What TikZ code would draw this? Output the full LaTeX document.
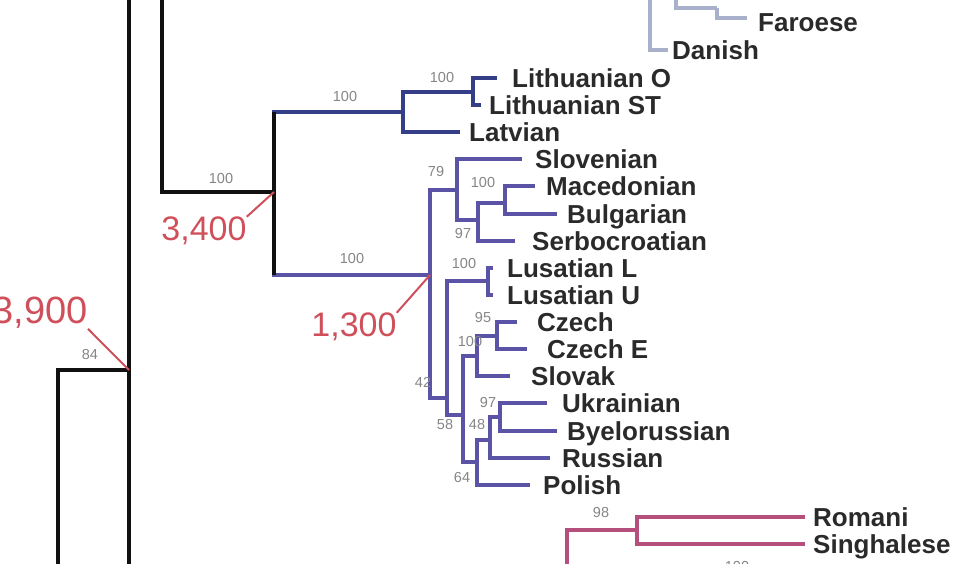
\documentclass[tikz,border=0pt]{standalone}
\usepackage{fontspec}
\setmainfont{Liberation Sans}
\definecolor{stemcol}{HTML}{111111}
\definecolor{baltic}{HTML}{343F88}
\definecolor{slavic}{HTML}{5B54A6}
\definecolor{germ}{HTML}{A9B0CC}
\definecolor{indic}{HTML}{B5507C}
\definecolor{agecol}{HTML}{CF505A}
\definecolor{supcol}{HTML}{858585}
\definecolor{taxcol}{HTML}{2A2A2A}
\begin{document}
\begin{tikzpicture}[x=1pt,y=-1pt,
  branch/.style={line width=4.5pt, line join=miter, line cap=butt},
  taxon/.style={anchor=base west, inner sep=0pt, text=taxcol,
    font=\bfseries\fontsize{26}{26}\selectfont},
  support/.style={inner sep=0pt, text=supcol, font=\fontsize{14.5}{14.5}\selectfont},
  age/.style={inner sep=0pt, text=agecol, font=\fontsize{34}{34}\selectfont},
  lead/.style={draw=agecol, line width=2pt}]
\useasboundingbox (0,0) rectangle (956,563);

% ---- node positions (x of node, y where its parent branch meets it) ----
\coordinate (top129) at (129,-20);
\coordinate (bot129) at (129,600);
\coordinate (root) at (129,370);
\coordinate (left58) at (58,600);
\coordinate (top162) at (162,-20);
\coordinate (BS) at (274,192);
\coordinate (Bal) at (403,112);
\coordinate (Lit) at (473,92);
\coordinate (Sla) at (430,275);
\coordinate (SS) at (457,190);
\coordinate (SC) at (478,220);
\coordinate (MB) at (505,203);
\coordinate (WE) at (447,398);
\coordinate (Lus) at (488,281);
\coordinate (R) at (463,415);
\coordinate (CS) at (477,356);
\coordinate (CZ) at (497,336);
\coordinate (P) at (477,462);
\coordinate (E) at (490,440);
\coordinate (UB) at (500,417);
% tips
\coordinate (LiO) at (497,78);
\coordinate (LiS) at (481,105);
\coordinate (Lat) at (460,132);
\coordinate (Slo) at (522,159);
\coordinate (Mac) at (535,186);
\coordinate (Bul) at (557,214);
\coordinate (Ser) at (515,241);
\coordinate (LuL) at (493,268);
\coordinate (LuU) at (493,295);
\coordinate (Cz) at (517,322);
\coordinate (CzE) at (527,349);
\coordinate (Slk) at (510,376);
\coordinate (Ukr) at (547,403);
\coordinate (Bye) at (557,431);
\coordinate (Rus) at (550,458);
\coordinate (Pol) at (530,485);
% Germanic and Indic fragments
\coordinate (Gtop) at (650,-20);
\coordinate (Dan) at (668,50);
\coordinate (Ftop) at (676,-20);
\coordinate (FN) at (717,8);
\coordinate (Far) at (747,18);
\coordinate (Ibot) at (567,600);
\coordinate (RS) at (637,530);
\coordinate (Rom) at (805,517);
\coordinate (Sin) at (805,544);

% ---- black deep branches ----
\draw[branch, stemcol] (top129) -- (bot129);
\draw[branch, stemcol] (root) -| (left58);
\draw[branch, stemcol] (top162) |- (BS);

% ---- Baltic ----
\draw[branch, baltic] (BS) |- (Bal);
\draw[branch, baltic] (Bal) |- (Lit);
\draw[branch, baltic] (Bal) |- (Lat);
\draw[branch, baltic] (Lit) |- (LiO);
\draw[branch, baltic] (Lit) |- (LiS);

% ---- Slavic ----
\draw[branch, slavic] (BS) |- (Sla);
\draw[branch, stemcol] (BS |- Bal) -- (BS |- Sla);
\draw[branch, slavic] (Sla) |- (SS);
\draw[branch, slavic] (Sla) |- (WE);
\draw[branch, slavic] (SS) |- (Slo);
\draw[branch, slavic] (SS) |- (SC);
\draw[branch, slavic] (SC) |- (MB);
\draw[branch, slavic] (SC) |- (Ser);
\draw[branch, slavic] (MB) |- (Mac);
\draw[branch, slavic] (MB) |- (Bul);
\draw[branch, slavic] (WE) |- (Lus);
\draw[branch, slavic] (WE) |- (R);
\draw[branch, slavic] (Lus) |- (LuL);
\draw[branch, slavic] (Lus) |- (LuU);
\draw[branch, slavic] (R) |- (CS);
\draw[branch, slavic] (R) |- (P);
\draw[branch, slavic] (CS) |- (CZ);
\draw[branch, slavic] (CS) |- (Slk);
\draw[branch, slavic] (CZ) |- (Cz);
\draw[branch, slavic] (CZ) |- (CzE);
\draw[branch, slavic] (P) |- (E);
\draw[branch, slavic] (P) |- (Pol);
\draw[branch, slavic] (E) |- (UB);
\draw[branch, slavic] (E) |- (Rus);
\draw[branch, slavic] (UB) |- (Ukr);
\draw[branch, slavic] (UB) |- (Bye);

% ---- Germanic ----
\draw[branch, germ] (Gtop) |- (Dan);
\draw[branch, germ] (Ftop) |- (FN);
\draw[branch, germ] (FN) |- (Far);

% ---- Indo-Aryan ----
\draw[branch, indic] (Ibot) |- (RS);
\draw[branch, indic] (RS) |- (Rom);
\draw[branch, indic] (RS) |- (Sin);

% ---- taxon names ----
\node[taxon] (tFar) at (758,31) {Faroese};
\node[taxon] (tDan) at (672,59) {Danish};
\node[taxon] (tLiO) at (512,87) {Lithuanian O};
\node[taxon] (tLiS) at (489,114) {Lithuanian ST};
\node[taxon] (tLat) at (469,141) {Latvian};
\node[taxon] (tSlo) at (535,168) {Slovenian};
\node[taxon] (tMac) at (546,195) {Macedonian};
\node[taxon] (tBul) at (567,223) {Bulgarian};
\node[taxon] (tSer) at (532,250) {Serbocroatian};
\node[taxon] (tLuL) at (507,277) {Lusatian L};
\node[taxon] (tLuU) at (507,304) {Lusatian U};
\node[taxon] (tCz) at (537,331) {Czech};
\node[taxon] (tCzE) at (547,358) {Czech E};
\node[taxon] (tSlk) at (531,385) {Slovak};
\node[taxon] (tUkr) at (562,412) {Ukrainian};
\node[taxon] (tBye) at (567,440) {Byelorussian};
\node[taxon] (tRus) at (562,467) {Russian};
\node[taxon] (tPol) at (543,494) {Polish};
\node[taxon] (tRom) at (813,526) {Romani};
\node[taxon] (tSin) at (813,553) {Singhalese};

% ---- support values ----
\node[support] (s1) at (221,179) {100};
\node[support] (s2) at (345,97) {100};
\node[support] (s3) at (352,259) {100};
\node[support] (s4) at (90,355) {84};
\node[support] (s5) at (442,78) {100};
\node[support] (s6) at (436,172) {79};
\node[support] (s7) at (483,183) {100};
\node[support] (s8) at (463,234) {97};
\node[support] (s9) at (464,264) {100};
\node[support] (s10) at (483,318) {95};
\node[support] (s11) at (470,342) {100};
\node[support] (s12) at (423,382) {42};
\node[support] (s13) at (488,403) {97};
\node[support] (s14) at (445,425) {58};
\node[support] (s15) at (477,425) {48};
\node[support] (s16) at (462,478) {64};
\node[support] (s17) at (601,512) {98};
\node[support] (s18) at (737,566) {100};

% ---- divergence dates ----
\node[age, anchor=east, font=\fontsize{38}{38}\selectfont] (a3900) at (88,313) {3,900};
\node[age] (a3400) at (204,231) {3,400};
\node[age] (a1300) at (354,327) {1,300};
\draw[lead] (a3900.south east) -- (root);
\draw[lead] (a3400.north east) -- (BS);
\draw[lead] (a1300.north east) -- (Sla);
\end{tikzpicture}
\end{document}
